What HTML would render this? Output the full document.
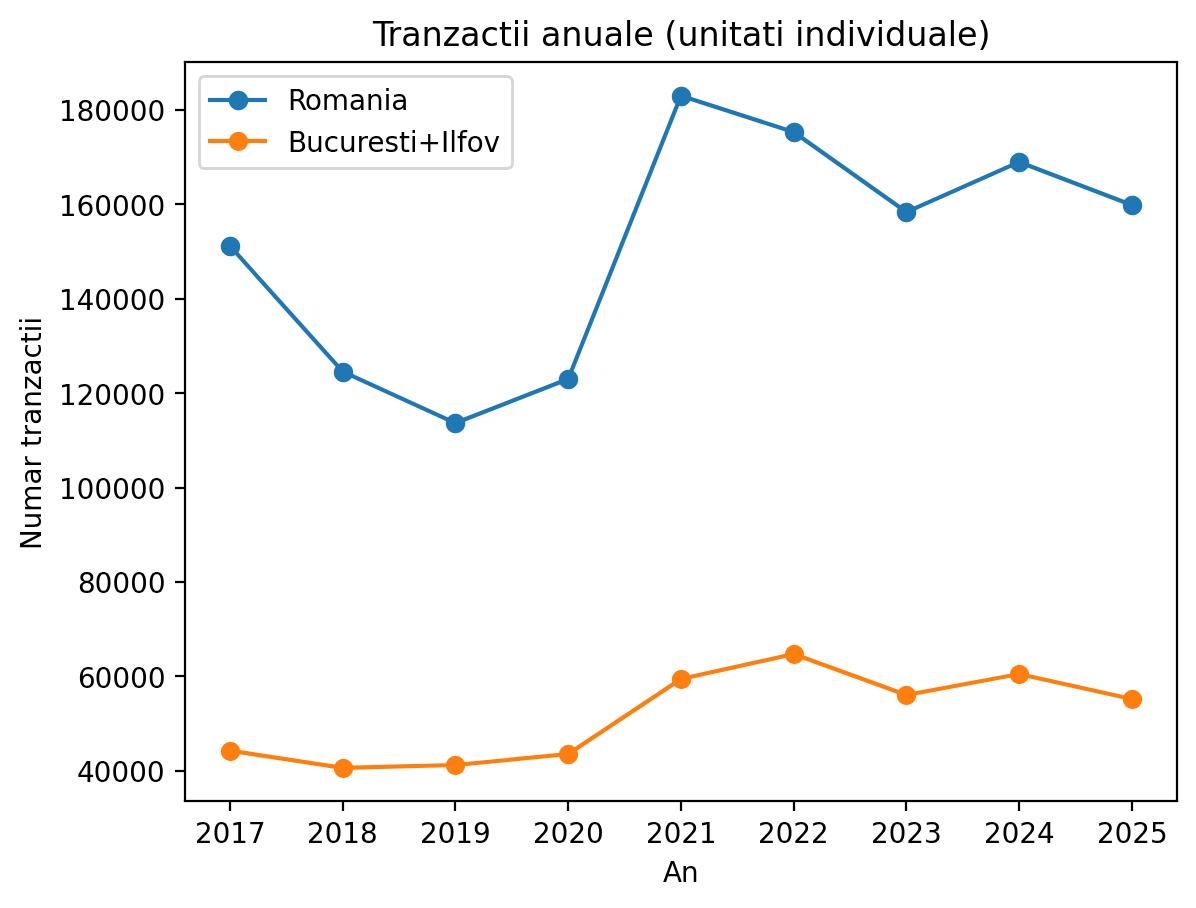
<!DOCTYPE html>
<html lang="ro"><head><meta charset="utf-8"><title>Tranzactii anuale (unitati individuale)</title>
<style>
html,body{margin:0;padding:0;background:#fff;font-family:"Liberation Sans",sans-serif;}
body{width:1196px;height:908px;overflow:hidden;}
svg{display:block;}
</style></head><body>
<svg width="1196" height="908" viewBox="-8.97500 19.06400 430.56000 326.88000" preserveAspectRatio="none" role="img" aria-label="Tranzactii anuale (unitati individuale)"><title>Tranzactii anuale (unitati individuale)</title><desc>Line chart. Title: Tranzactii anuale (unitati individuale). X axis: An (2017-2025). Y axis: Numar tranzactii (40000-180000). Series Romania (blue) and Bucuresti+Ilfov (orange), circle markers, legend upper left.</desc><defs><style type="text/css">*{stroke-linejoin: round; stroke-linecap: butt}</style></defs><g id="figure_1"><g id="patch_1"><path d="M 0 345.6 L 460.8 345.6 L 460.8 0 L 0 0 z " style="fill: #ffffff"/></g><g id="axes_1"><g id="patch_2"><path d="M 57.6 307.584 L 414.72 307.584 L 414.72 41.472 L 57.6 41.472 z " style="fill: #ffffff"/></g><g id="matplotlib.axis_1"><g id="xtick_1"><g id="line2d_1"><defs><path id="m1504cfccaf" d="M 0 0 L 0 3.6 " style="stroke: #000000; stroke-width: 0.8"/></defs><g><use href="#m1504cfccaf" x="73.825" y="307.424" style="stroke: #000000; stroke-width: 0.8"/></g></g></g><g id="xtick_2"><g id="line2d_2"><g><use href="#m1504cfccaf" x="114.505" y="307.424" style="stroke: #000000; stroke-width: 0.8"/></g></g></g><g id="xtick_3"><g id="line2d_3"><g><use href="#m1504cfccaf" x="154.825" y="307.424" style="stroke: #000000; stroke-width: 0.8"/></g></g></g><g id="xtick_4"><g id="line2d_4"><g><use href="#m1504cfccaf" x="195.505" y="307.424" style="stroke: #000000; stroke-width: 0.8"/></g></g></g><g id="xtick_5"><g id="line2d_5"><g><use href="#m1504cfccaf" x="236.185" y="307.424" style="stroke: #000000; stroke-width: 0.8"/></g></g></g><g id="xtick_6"><g id="line2d_6"><g><use href="#m1504cfccaf" x="276.865" y="307.424" style="stroke: #000000; stroke-width: 0.8"/></g></g></g><g id="xtick_7"><g id="line2d_7"><g><use href="#m1504cfccaf" x="317.185" y="307.424" style="stroke: #000000; stroke-width: 0.8"/></g></g></g><g id="xtick_8"><g id="line2d_8"><g><use href="#m1504cfccaf" x="357.865" y="307.424" style="stroke: #000000; stroke-width: 0.8"/></g></g></g><g id="xtick_9"><g id="line2d_9"><g><use href="#m1504cfccaf" x="398.545" y="307.424" style="stroke: #000000; stroke-width: 0.8"/></g></g></g></g><g id="matplotlib.axis_2"><g id="ytick_1"></g><g id="ytick_2"></g><g id="ytick_3"></g><g id="ytick_4"></g><g id="ytick_5"></g><g id="ytick_6"></g><g id="ytick_7"></g><g id="ytick_8"></g></g><g id="line2d_18"><polygon points="73.2745,108.1402 113.8563,153.3745 114.9728,152.3728 74.391,107.1385" fill="#1f77b4"/><polygon points="114.1036,153.5561 154.6854,172.0427 155.3073,170.6777 114.7255,152.1911" fill="#1f77b4"/><polygon points="155.2691,172.0589 195.8509,156.2183 195.3055,154.821 154.7237,170.6616" fill="#1f77b4"/><polygon points="196.275,155.797 236.8568,53.8454 235.4632,53.2906 194.8814,155.2423" fill="#1f77b4"/><polygon points="235.9307,54.2821 276.5125,67.3135 276.9711,65.8853 236.3893,52.8539" fill="#1f77b4"/><polygon points="276.3078,67.211 316.8896,96.0116 317.7577,94.7883 277.1759,65.9878" fill="#1f77b4"/><polygon points="317.6277,96.0855 358.2096,78.085 357.6014,76.7138 317.0195,94.7144" fill="#1f77b4"/><polygon points="357.6381,78.1001 398.22,93.5804 398.7546,92.1789 358.1728,76.6986" fill="#1f77b4"/><defs><polygon id="mf14c53ed57" points="3.5,0 3.4925,0.2289 3.4701,0.4568 3.4327,0.6828 3.3807,0.9059 3.3143,1.125 3.2336,1.3394 3.1391,1.548 3.0311,1.75 2.9101,1.9445 2.7767,2.1307 2.6314,2.3077 2.4749,2.4749 2.3077,2.6314 2.1307,2.7767 1.9445,2.9101 1.75,3.0311 1.548,3.1391 1.3394,3.2336 1.125,3.3143 0.9059,3.3807 0.6828,3.4327 0.4568,3.4701 0.2289,3.4925 0,3.5 -0.2289,3.4925 -0.4568,3.4701 -0.6828,3.4327 -0.9059,3.3807 -1.125,3.3143 -1.3394,3.2336 -1.548,3.1391 -1.75,3.0311 -1.9445,2.9101 -2.1307,2.7767 -2.3077,2.6314 -2.4749,2.4749 -2.6314,2.3077 -2.7767,2.1307 -2.9101,1.9445 -3.0311,1.75 -3.1391,1.548 -3.2336,1.3394 -3.3143,1.125 -3.3807,0.9059 -3.4327,0.6828 -3.4701,0.4568 -3.4925,0.2289 -3.5,0 -3.4925,-0.2289 -3.4701,-0.4568 -3.4327,-0.6828 -3.3807,-0.9059 -3.3143,-1.125 -3.2336,-1.3394 -3.1391,-1.548 -3.0311,-1.75 -2.9101,-1.9445 -2.7767,-2.1307 -2.6314,-2.3077 -2.4749,-2.4749 -2.3077,-2.6314 -2.1307,-2.7767 -1.9445,-2.9101 -1.75,-3.0311 -1.548,-3.1391 -1.3394,-3.2336 -1.125,-3.3143 -0.9059,-3.3807 -0.6828,-3.4327 -0.4568,-3.4701 -0.2289,-3.4925 -0,-3.5 0.2289,-3.4925 0.4568,-3.4701 0.6828,-3.4327 0.9059,-3.3807 1.125,-3.3143 1.3394,-3.2336 1.548,-3.1391 1.75,-3.0311 1.9445,-2.9101 2.1307,-2.7767 2.3077,-2.6314 2.4749,-2.4749 2.6314,-2.3077 2.7767,-2.1307 2.9101,-1.9445 3.0311,-1.75 3.1391,-1.548 3.2336,-1.3394 3.3143,-1.125 3.3807,-0.9059 3.4327,-0.6828 3.4701,-0.4568 3.4925,-0.2289"/></defs><g><use href="#mf14c53ed57" x="74.005" y="107.804" fill="#1f77b4"/><use href="#mf14c53ed57" x="114.685" y="153.164" fill="#1f77b4"/><use href="#mf14c53ed57" x="155.005" y="171.524" fill="#1f77b4"/><use href="#mf14c53ed57" x="195.685" y="155.684" fill="#1f77b4"/><use href="#mf14c53ed57" x="236.365" y="53.804" fill="#1f77b4"/><use href="#mf14c53ed57" x="277.045" y="66.764" fill="#1f77b4"/><use href="#mf14c53ed57" x="317.365" y="95.564" fill="#1f77b4"/><use href="#mf14c53ed57" x="358.045" y="77.564" fill="#1f77b4"/><use href="#mf14c53ed57" x="398.725" y="93.044" fill="#1f77b4"/></g></g><g id="line2d_19"><polygon points="73.7196,290.0349 114.3014,296.2294 114.5277,294.7466 73.9459,288.5521" fill="#ff7f0e"/><polygon points="114.4332,296.2378 155.015,295.2283 154.9777,293.7288 114.3959,294.7382" fill="#ff7f0e"/><polygon points="155.0692,295.225 195.651,291.2653 195.5053,289.7724 154.9235,293.7321" fill="#ff7f0e"/><polygon points="195.9936,291.1432 236.5754,264.1441 235.7446,262.8952 195.1627,289.8944" fill="#ff7f0e"/><polygon points="236.3224,264.2519 276.9042,255.2516 276.5794,253.7872 235.9976,262.7875" fill="#ff7f0e"/><polygon points="276.4855,255.2242 317.0673,269.9839 317.58,268.5743 276.9982,253.8145" fill="#ff7f0e"/><polygon points="317.461,270.0164 358.0428,262.4573 357.7681,260.9826 317.1863,268.5418" fill="#ff7f0e"/><polygon points="357.7431,262.4522 398.3249,271.4507 398.6496,269.9863 358.0678,260.9877" fill="#ff7f0e"/><defs><path id="mcd47077251" d="M 0 3 C 0.795609 3 1.55874 2.683901 2.12132 2.12132 C 2.683901 1.55874 3 0.795609 3 0 C 3 -0.795609 2.683901 -1.55874 2.12132 -2.12132 C 1.55874 -2.683901 0.795609 -3 0 -3 C -0.795609 -3 -1.55874 -2.683901 -2.12132 -2.12132 C -2.683901 -1.55874 -3 -0.795609 -3 0 C -3 0.795609 -2.683901 1.55874 -2.12132 2.12132 C -1.55874 2.683901 -0.795609 3 0 3 z " style="stroke: #ff7f0e"/></defs><g><use href="#mcd47077251" x="74.005" y="289.604" style="fill: #ff7f0e; stroke: #ff7f0e"/><use href="#mcd47077251" x="114.685" y="295.724" style="fill: #ff7f0e; stroke: #ff7f0e"/><use href="#mcd47077251" x="155.005" y="294.644" style="fill: #ff7f0e; stroke: #ff7f0e"/><use href="#mcd47077251" x="195.685" y="290.684" style="fill: #ff7f0e; stroke: #ff7f0e"/><use href="#mcd47077251" x="236.365" y="263.684" style="fill: #ff7f0e; stroke: #ff7f0e"/><use href="#mcd47077251" x="277.045" y="254.684" style="fill: #ff7f0e; stroke: #ff7f0e"/><use href="#mcd47077251" x="317.365" y="269.444" style="fill: #ff7f0e; stroke: #ff7f0e"/><use href="#mcd47077251" x="358.045" y="261.884" style="fill: #ff7f0e; stroke: #ff7f0e"/><use href="#mcd47077251" x="398.725" y="270.884" style="fill: #ff7f0e; stroke: #ff7f0e"/></g></g><g id="patch_3"><path d="M 57.625 307.424 L 57.625 41.384 " style="fill: none; stroke: #000000; stroke-width: 0.8; stroke-linejoin: miter; stroke-linecap: square"/></g><g id="patch_4"><path d="M 414.745 307.424 L 414.745 41.384 " style="fill: none; stroke: #000000; stroke-width: 0.8; stroke-linejoin: miter; stroke-linecap: square"/></g><g id="legend_1"><g id="patch_7"><path d="M 64.645 79.724 L 173.365 79.724 Q 175.525 79.724 175.525 77.924 L 175.525 48.764 Q 175.525 46.604 173.365 46.604 L 64.645 46.604 Q 62.845 46.604 62.845 48.764 L 62.845 77.924 Q 62.845 79.724 64.645 79.724 z" style="fill: #ffffff; opacity: 0.8; stroke: #cccccc; stroke-linejoin: miter"/></g><g id="line2d_20"><g><use href="#mf14c53ed57" x="76.885" y="55.244" fill="#1f77b4"/></g></g><g id="line2d_21"><g><use href="#mcd47077251" x="76.885" y="70.004" style="fill: #ff7f0e; stroke: #ff7f0e"/></g></g></g></g></g><g id="px_layer" transform="translate(-8.97500 19.06400) scale(0.36)"><rect x="183.8889" y="800" width="994.2222" height="2" fill="#000"/><rect x="183.8889" y="799" width="994.2222" height="1" fill="#000" fill-opacity="0.1111"/><rect x="183.8889" y="802" width="994.2222" height="1" fill="#000" fill-opacity="0.1111"/><rect x="183.8889" y="61" width="994.2222" height="2" fill="#000"/><rect x="183.8889" y="60" width="994.2222" height="1" fill="#000" fill-opacity="0.1111"/><rect x="183.8889" y="63" width="994.2222" height="1" fill="#000" fill-opacity="0.1111"/><rect x="175" y="770" width="10" height="2" fill="#000"/><rect x="175" y="769" width="10" height="1" fill="#000" fill-opacity="0.1111"/><rect x="175" y="772" width="10" height="1" fill="#000" fill-opacity="0.1111"/><rect x="175" y="675" width="10" height="2" fill="#000"/><rect x="175" y="674" width="10" height="1" fill="#000" fill-opacity="0.1111"/><rect x="175" y="677" width="10" height="1" fill="#000" fill-opacity="0.1111"/><rect x="175" y="581" width="10" height="2" fill="#000"/><rect x="175" y="580" width="10" height="1" fill="#000" fill-opacity="0.1111"/><rect x="175" y="583" width="10" height="1" fill="#000" fill-opacity="0.1111"/><rect x="175" y="487" width="10" height="2" fill="#000"/><rect x="175" y="486" width="10" height="1" fill="#000" fill-opacity="0.1111"/><rect x="175" y="489" width="10" height="1" fill="#000" fill-opacity="0.1111"/><rect x="175" y="392" width="10" height="2" fill="#000"/><rect x="175" y="391" width="10" height="1" fill="#000" fill-opacity="0.1111"/><rect x="175" y="394" width="10" height="1" fill="#000" fill-opacity="0.1111"/><rect x="175" y="298" width="10" height="2" fill="#000"/><rect x="175" y="297" width="10" height="1" fill="#000" fill-opacity="0.1111"/><rect x="175" y="300" width="10" height="1" fill="#000" fill-opacity="0.1111"/><rect x="175" y="203" width="10" height="2" fill="#000"/><rect x="175" y="202" width="10" height="1" fill="#000" fill-opacity="0.1111"/><rect x="175" y="205" width="10" height="1" fill="#000" fill-opacity="0.1111"/><rect x="175" y="109" width="10" height="2" fill="#000"/><rect x="175" y="108" width="10" height="1" fill="#000" fill-opacity="0.1111"/><rect x="175" y="111" width="10" height="1" fill="#000" fill-opacity="0.1111"/><rect x="207.9167" y="98" width="59.1667" height="4" fill="#1f77b4"/><rect x="207.9167" y="97" width="59.1667" height="1" fill="#1f77b4" fill-opacity="0.0833"/><rect x="207.9167" y="102" width="59.1667" height="1" fill="#1f77b4" fill-opacity="0.0833"/><rect x="207.9167" y="139" width="59.1667" height="4" fill="#ff7f0e"/><rect x="207.9167" y="138" width="59.1667" height="1" fill="#ff7f0e" fill-opacity="0.0833"/><rect x="207.9167" y="143" width="59.1667" height="1" fill="#ff7f0e" fill-opacity="0.0833"/></g><g id="text_layer" transform="translate(-8.97500 19.06400) scale(0.36)"><defs><path id="g10_32" d="M5.297-2.172l9.578 0 0 2.172-12.875 0 0-2.172 0.552-0.589 0.615-0.654 0.677-0.718 0.739-0.782 0.802-0.846 0.865-0.911 0.731-0.771 0.649-0.688 0.567-0.605 0.484-0.523 0.402-0.439 0.32-0.357 0.238-0.273 0.606-0.743 0.507-0.683 0.407-0.622 0.308-0.562 0.295-0.704 0.177-0.698 0.059-0.691-0.046-0.645-0.136-0.595-0.229-0.547-0.319-0.498-0.411-0.45-0.477-0.382-0.533-0.298-0.587-0.212-0.643-0.128-0.697-0.042-0.88 0.052-0.912 0.156-0.942 0.261-0.971 0.357-1.016 0.469-1.06 0.58 0-2.781 1.079-0.391 1.032-0.318 0.982-0.244 0.931-0.174 0.875-0.104 0.819-0.035 1.012 0.045 0.942 0.136 0.871 0.225 0.8 0.316 0.731 0.406 0.66 0.497 0.497 0.482 0.421 0.527 0.345 0.571 0.268 0.616 0.191 0.661 0.115 0.706 0.038 0.75-0.052 0.84-0.156 0.812-0.261 0.785-0.282 0.604-0.378 0.654-0.474 0.705-0.569 0.756-0.155 0.178-0.237 0.263-0.319 0.348-0.4 0.433-0.482 0.518-0.563 0.604-0.646 0.683-0.729 0.77-0.813 0.855-0.895 0.942-0.98 1.027z"/><path id="g10_30" d="M8.875-18.828l-0.585 0.042-0.543 0.128-0.498 0.212-0.456 0.296-0.412 0.382-0.368 0.467-0.325 0.551-0.282 0.636-0.239 0.722-0.195 0.808-0.152 0.893-0.108 0.978-0.065 1.064-0.022 1.149 0.022 1.149 0.065 1.064 0.108 0.978 0.152 0.893 0.195 0.808 0.239 0.722 0.282 0.636 0.325 0.551 0.368 0.467 0.412 0.382 0.456 0.296 0.498 0.212 0.543 0.128 0.585 0.042 0.585-0.042 0.543-0.128 0.498-0.212 0.456-0.296 0.412-0.382 0.368-0.467 0.325-0.551 0.282-0.636 0.239-0.722 0.195-0.808 0.152-0.893 0.108-0.978 0.065-1.064 0.022-1.149-0.022-1.149-0.065-1.064-0.108-0.978-0.152-0.893-0.195-0.808-0.239-0.722-0.281-0.636-0.326-0.551-0.368-0.467-0.412-0.382-0.456-0.296-0.498-0.212-0.543-0.128zM8.875-21l0.826 0.042 0.777 0.126 0.725 0.21 0.676 0.294 0.625 0.378 0.575 0.462 0.525 0.546 0.474 0.629 0.421 0.71 0.365 0.787 0.309 0.862 0.253 0.938 0.196 1.015 0.141 1.091 0.084 1.167 0.028 1.243-0.028 1.243-0.084 1.167-0.141 1.091-0.196 1.015-0.253 0.938-0.309 0.862-0.365 0.787-0.421 0.709-0.474 0.63-0.525 0.546-0.575 0.462-0.625 0.378-0.676 0.294-0.725 0.21-0.777 0.126-0.826 0.042-0.826-0.042-0.777-0.126-0.725-0.21-0.676-0.294-0.625-0.378-0.575-0.462-0.525-0.546-0.474-0.63-0.421-0.709-0.365-0.787-0.309-0.862-0.253-0.938-0.196-1.015-0.141-1.091-0.084-1.167-0.028-1.243 0.028-1.243 0.084-1.167 0.141-1.091 0.196-1.015 0.253-0.938 0.309-0.862 0.365-0.787 0.421-0.71 0.474-0.629 0.525-0.546 0.575-0.462 0.625-0.378 0.676-0.294 0.725-0.21 0.777-0.126z"/><path id="g10_31" d="M3.375-2.375l4.5 0 0-16.031-4.875 1.015 0-2.593 4.844-1.016 2.781 0 0 18.625 4.375 0 0 2.375-11.625 0z"/><path id="g10_37" d="M2.25-21l13 0 0 1.094-7.344 19.906-2.859 0 6.906-18.828-9.703 0z"/><path id="g10_38" d="M8.812-10l-0.748 0.042-0.681 0.126-0.616 0.209-0.55 0.293-0.483 0.377-0.399 0.449-0.311 0.511-0.222 0.572-0.133 0.633-0.044 0.694 0.044 0.706 0.133 0.642 0.222 0.578 0.311 0.514 0.399 0.451 0.484 0.371 0.549 0.289 0.615 0.206 0.682 0.124 0.748 0.041 0.743-0.042 0.677-0.125 0.613-0.21 0.548-0.293 0.482-0.377 0.405-0.45 0.315-0.512 0.225-0.575 0.135-0.638 0.045-0.7-0.045-0.694-0.135-0.633-0.225-0.572-0.315-0.511-0.405-0.449-0.477-0.377-0.546-0.293-0.612-0.209-0.68-0.126zM6.109-11.172l-0.675-0.206-0.612-0.266-0.55-0.328-0.488-0.39-0.425-0.45-0.354-0.508-0.276-0.547-0.197-0.588-0.118-0.628-0.039-0.667 0.048-0.784 0.143-0.726 0.239-0.67 0.334-0.612 0.43-0.554 0.525-0.498 0.608-0.429 0.68-0.352 0.751-0.273 0.822-0.196 0.893-0.117 0.965-0.039 0.968 0.039 0.896 0.117 0.823 0.196 0.75 0.273 0.677 0.352 0.604 0.429 0.525 0.497 0.43 0.554 0.334 0.609 0.239 0.667 0.143 0.722 0.048 0.779-0.039 0.673-0.119 0.632-0.196 0.591-0.276 0.549-0.354 0.508-0.425 0.451-0.488 0.389-0.55 0.329-0.612 0.266-0.675 0.206 0.764 0.217 0.693 0.288 0.622 0.359 0.551 0.431 0.479 0.502 0.405 0.561 0.315 0.609 0.225 0.656 0.135 0.704 0.045 0.751-0.037 0.816-0.11 0.76-0.183 0.703-0.257 0.647-0.33 0.591-0.403 0.536-0.477 0.478-0.545 0.415-0.608 0.351-0.671 0.287-0.735 0.223-0.797 0.159-0.861 0.096-0.923 0.032-0.924-0.032-0.861-0.096-0.797-0.159-0.735-0.223-0.671-0.287-0.608-0.351-0.545-0.415-0.477-0.478-0.403-0.536-0.33-0.591-0.257-0.647-0.183-0.703-0.11-0.76-0.037-0.816 0.045-0.745 0.135-0.7 0.225-0.653 0.315-0.607 0.405-0.56 0.484-0.508 0.554-0.435 0.621-0.362 0.691-0.29zM5.125-15.5l0.039 0.598 0.116 0.544 0.194 0.491 0.271 0.437 0.349 0.383 0.419 0.315 0.481 0.245 0.544 0.175 0.606 0.105 0.669 0.035 0.663-0.035 0.602-0.105 0.54-0.175 0.48-0.245 0.418-0.315 0.354-0.383 0.276-0.437 0.197-0.491 0.118-0.544 0.039-0.598-0.039-0.598-0.118-0.542-0.197-0.487-0.276-0.433-0.354-0.378-0.418-0.32-0.48-0.25-0.54-0.178-0.602-0.107-0.663-0.035-0.669 0.035-0.606 0.107-0.544 0.178-0.481 0.25-0.419 0.32-0.349 0.378-0.271 0.433-0.194 0.487-0.116 0.543z"/><path id="g10_39" d="M3.047-0.766l0-2.546 0.7 0.336 0.703 0.282 0.706 0.225 0.705 0.165 0.698 0.099 0.691 0.033 0.755-0.041 0.702-0.122 0.649-0.204 0.596-0.286 0.543-0.367 0.49-0.449 0.437-0.531 0.385-0.614 0.327-0.698 0.267-0.784 0.207-0.868 0.148-0.953 0.089-1.038 0.03-1.123-0.417 0.552-0.47 0.483-0.522 0.415-0.575 0.347-0.61 0.273-0.64 0.196-0.672 0.117-0.703 0.039-0.97-0.049-0.9-0.146-0.83-0.243-0.759-0.34-0.689-0.437-0.618-0.535-0.464-0.531-0.393-0.584-0.322-0.637-0.25-0.689-0.178-0.743-0.107-0.796-0.036-0.848 0.038-0.829 0.113-0.78 0.188-0.731 0.263-0.683 0.339-0.635 0.414-0.586 0.489-0.537 0.556-0.481 0.604-0.407 0.654-0.333 0.704-0.259 0.752-0.185 0.801-0.111 0.851-0.037 0.856 0.042 0.804 0.126 0.751 0.21 0.698 0.294 0.646 0.378 0.592 0.462 0.54 0.546 0.488 0.63 0.435 0.709 0.378 0.787 0.32 0.862 0.261 0.938 0.204 1.015 0.145 1.091 0.087 1.167 0.029 1.243-0.036 1.165-0.107 1.106-0.178 1.045-0.249 0.985-0.321 0.925-0.392 0.865-0.464 0.805-0.534 0.745-0.592 0.67-0.641 0.581-0.691 0.491-0.74 0.402-0.791 0.313-0.84 0.223-0.89 0.134-0.94 0.045-1.039-0.047-1.055-0.14-1.082-0.247zM8.5-10l0.707-0.047 0.646-0.14 0.584-0.235 0.523-0.328 0.462-0.422 0.388-0.509 0.302-0.578 0.216-0.647 0.129-0.716 0.043-0.784-0.043-0.785-0.129-0.715-0.216-0.647-0.302-0.578-0.388-0.51-0.462-0.427-0.523-0.333-0.585-0.237-0.645-0.143-0.707-0.047-0.707 0.047-0.646 0.143-0.584 0.237-0.523 0.333-0.462 0.427-0.388 0.51-0.302 0.578-0.216 0.647-0.129 0.715-0.043 0.785 0.043 0.784 0.129 0.716 0.216 0.647 0.302 0.578 0.388 0.509 0.462 0.422 0.523 0.328 0.585 0.235 0.645 0.14z"/><path id="g10_33" d="M11.297-11.312l0.753 0.204 0.684 0.278 0.616 0.35 0.547 0.422 0.478 0.495 0.405 0.557 0.315 0.606 0.225 0.656 0.135 0.706 0.045 0.757-0.042 0.829-0.128 0.774-0.212 0.718-0.297 0.663-0.381 0.608-0.467 0.552-0.551 0.496-0.625 0.436-0.697 0.368-0.767 0.301-0.84 0.235-0.91 0.167-0.983 0.101-1.053 0.033-0.854-0.026-0.875-0.078-0.896-0.13-0.915-0.184-0.932-0.24-0.95-0.295 0-2.719 0.785 0.458 0.833 0.375 0.882 0.292 0.92 0.208 0.948 0.125 0.976 0.042 0.825-0.031 0.756-0.094 0.688-0.156 0.62-0.219 0.55-0.281 0.483-0.344 0.415-0.408 0.34-0.463 0.264-0.52 0.189-0.574 0.113-0.63 0.038-0.686-0.035-0.642-0.106-0.594-0.175-0.545-0.246-0.497-0.317-0.448-0.387-0.399-0.444-0.344-0.5-0.281-0.556-0.219-0.611-0.156-0.666-0.094-0.723-0.031-2.359 0 0-2.172 2.469 0 0.768-0.029 0.692-0.088 0.615-0.147 0.54-0.206 0.463-0.264 0.388-0.32 0.302-0.373 0.216-0.425 0.129-0.477 0.043-0.53-0.044-0.549-0.133-0.494-0.222-0.441-0.311-0.386-0.399-0.334-0.477-0.275-0.553-0.215-0.632-0.153-0.708-0.092-0.787-0.03-0.769 0.026-0.807 0.078-0.845 0.13-0.884 0.174-0.943 0.229-1.002 0.285 0-2.282 1.019-0.248 0.974-0.203 0.929-0.158 0.898-0.113 0.859-0.067 0.821-0.023 1.006 0.039 0.932 0.119 0.859 0.197 0.787 0.277 0.713 0.355 0.641 0.435 0.558 0.497 0.458 0.553 0.355 0.61 0.254 0.666 0.152 0.723 0.051 0.779-0.039 0.648-0.116 0.607-0.194 0.566-0.271 0.524-0.349 0.483-0.414 0.434-0.481 0.379-0.547 0.321-0.613 0.266z"/><path id="g10_34" d="M10.5-18.531l-6.906 11.187 6.906 0zM9.781-21l3.469 0 0 13.656 2.875 0 0 2.344-2.875 0 0 5-2.75 0 0-5-9.125 0 0-2.719z"/><path id="g10_35" d="M3-21l10.75 0 0 2.172-8.25 0 0 5.219 0.594-0.164 0.593-0.118 0.606-0.082 0.598-0.027 0.94 0.039 0.882 0.115 0.826 0.193 0.767 0.27 0.711 0.348 0.653 0.424 0.596 0.502 0.526 0.567 0.446 0.621 0.364 0.676 0.284 0.73 0.202 0.784 0.122 0.838 0.04 0.893-0.042 0.921-0.125 0.86-0.209 0.799-0.292 0.739-0.376 0.678-0.46 0.618-0.543 0.557-0.614 0.485-0.683 0.41-0.751 0.336-0.819 0.261-0.888 0.187-0.955 0.112-1.024 0.037-1.293-0.051-1.317-0.152-1.339-0.254-1.395-0.356 0-2.75 0.821 0.429 0.839 0.349 0.856 0.269 0.89 0.191 0.922 0.115 0.953 0.038 0.759-0.036 0.703-0.108 0.648-0.18 0.592-0.252 0.536-0.324 0.481-0.397 0.42-0.458 0.344-0.509 0.267-0.56 0.191-0.612 0.115-0.662 0.038-0.714-0.038-0.724-0.115-0.67-0.191-0.618-0.267-0.565-0.344-0.511-0.42-0.459-0.48-0.397-0.536-0.324-0.589-0.252-0.645-0.18-0.699-0.108-0.754-0.036-0.729 0.029-0.729 0.089-0.73 0.147-0.734 0.2-0.745 0.266-0.755 0.331z"/><path id="g10_41" d="M9.484-18.359l-3.718 10.359 7.453 0zM7.938-21l3.109 0 7.703 21-2.844 0-1.844-5.656-9.109 0-1.844 5.656-2.89 0z"/><path id="g10_6e" d="M15.25-9.422l0 9.422-2.5 0 0-9.391-0.034-0.843-0.101-0.754-0.169-0.666-0.236-0.577-0.304-0.488-0.371-0.399-0.439-0.311-0.506-0.222-0.574-0.133-0.641-0.044-0.653 0.037-0.606 0.112-0.557 0.187-0.51 0.261-0.463 0.336-0.414 0.411-0.358 0.469-0.293 0.522-0.228 0.575-0.163 0.628-0.097 0.681-0.033 0.734 0 8.875-2.5 0 0-16 2.5 0 0 2.75 0.473-0.645 0.511-0.558 0.551-0.473 0.59-0.386 0.632-0.301 0.677-0.215 0.721-0.129 0.767-0.043 0.844 0.046 0.772 0.14 0.7 0.232 0.628 0.325 0.556 0.418 0.484 0.511 0.411 0.601 0.336 0.687 0.261 0.774 0.187 0.861 0.112 0.948z"/><path id="g10_36" d="M9.141-12l-0.594 0.036-0.55 0.11-0.509 0.182-0.465 0.255-0.424 0.328-0.38 0.402-0.383 0.564-0.297 0.643-0.213 0.722-0.127 0.801-0.043 0.879 0.043 0.869 0.127 0.793 0.213 0.719 0.297 0.644 0.383 0.569 0.38 0.401 0.424 0.328 0.465 0.255 0.509 0.182 0.55 0.11 0.594 0.036 0.593-0.036 0.549-0.11 0.506-0.182 0.463-0.255 0.419-0.328 0.376-0.401 0.388-0.569 0.302-0.644 0.216-0.719 0.129-0.793 0.043-0.869-0.043-0.88-0.129-0.8-0.216-0.722-0.302-0.643-0.388-0.564-0.376-0.402-0.419-0.328-0.463-0.255-0.506-0.182-0.549-0.11zM14.562-20.234l0.001 2.359-1.051-0.41-1.059-0.293-0.698-0.139-0.698-0.083-0.698-0.028-0.754 0.036-0.702 0.108-0.649 0.18-0.596 0.252-0.543 0.325-0.49 0.396-0.437 0.468-0.382 0.542-0.323 0.615-0.264 0.69-0.205 0.763-0.147 0.838-0.088 0.911-0.029 0.985 0.423-0.558 0.472-0.489 0.52-0.418 0.569-0.347 0.61-0.281 0.64-0.2 0.672-0.12 0.703-0.04 0.836 0.039 0.784 0.117 0.733 0.194 0.681 0.273 0.629 0.35 0.577 0.428 0.526 0.505 0.464 0.573 0.393 0.629 0.322 0.685 0.25 0.741 0.178 0.797 0.107 0.853 0.036 0.91-0.038 0.889-0.113 0.838-0.188 0.786-0.263 0.734-0.339 0.683-0.414 0.631-0.489 0.579-0.552 0.515-0.602 0.434-0.653 0.356-0.703 0.277-0.753 0.198-0.804 0.118-0.855 0.04-0.853-0.042-0.801-0.126-0.749-0.21-0.698-0.294-0.646-0.378-0.594-0.462-0.543-0.546-0.491-0.63-0.435-0.709-0.378-0.787-0.32-0.862-0.261-0.938-0.204-1.015-0.145-1.091-0.087-1.167-0.029-1.243 0.036-1.169 0.107-1.107 0.178-1.047 0.249-0.986 0.321-0.924 0.392-0.864 0.464-0.802 0.534-0.742 0.595-0.67 0.644-0.581 0.692-0.491 0.741-0.402 0.79-0.313 0.839-0.223 0.888-0.134 0.936-0.045 1.035 0.047 1.043 0.14 1.082 0.239z"/><path id="g10_4e" d="M2.75-21l3.656 0 8.969 17.562 0-17.562 2.625 0 0 21-3.656 0-8.969-17.562 0 17.562-2.625 0z"/><path id="g10_75" d="M2.375-6.547l0-9.453 2.5 0 0 9.375 0.034 0.849 0.101 0.758 0.169 0.669 0.236 0.579 0.304 0.489 0.371 0.399 0.439 0.311 0.506 0.222 0.574 0.133 0.641 0.044 0.653-0.036 0.606-0.11 0.557-0.182 0.51-0.255 0.463-0.328 0.414-0.401 0.358-0.47 0.293-0.525 0.228-0.58 0.163-0.634 0.097-0.689 0.033-0.743 0-8.875 2.5 0 0 16-2.5 0 0-2.75-0.472 0.651-0.508 0.564-0.546 0.475-0.583 0.388-0.626 0.294-0.675 0.21-0.724 0.126-0.772 0.042-0.84-0.046-0.77-0.14-0.699-0.232-0.629-0.325-0.558-0.418-0.489-0.511-0.415-0.6-0.34-0.685-0.264-0.77-0.189-0.855-0.113-0.94zM8.625-16lz"/><path id="g10_6d" d="M14.453-12.625l0.39-0.652 0.42-0.581 0.45-0.509 0.48-0.438 0.51-0.367 0.685-0.362 0.741-0.259 0.798-0.155 0.854-0.052 0.762 0.048 0.702 0.143 0.642 0.239 0.582 0.334 0.522 0.43 0.462 0.525 0.396 0.608 0.325 0.689 0.252 0.769 0.18 0.85 0.108 0.931 0.036 1.012 0 9.422-2.5 0 0-9.391-0.031-0.853-0.094-0.762-0.156-0.668-0.219-0.577-0.281-0.483-0.345-0.394-0.41-0.306-0.475-0.219-0.54-0.131-0.605-0.044-0.629 0.037-0.583 0.112-0.538 0.187-0.493 0.261-0.448 0.336-0.403 0.411-0.405 0.569-0.315 0.646-0.225 0.721-0.135 0.799-0.045 0.874 0 8.875-2.5 0 0-9.391-0.031-0.853-0.094-0.762-0.156-0.668-0.219-0.577-0.281-0.483-0.346-0.394-0.414-0.306-0.482-0.219-0.548-0.131-0.617-0.044-0.618 0.037-0.576 0.112-0.532 0.187-0.489 0.261-0.445 0.336-0.402 0.411-0.405 0.574-0.315 0.648-0.225 0.722-0.135 0.796-0.045 0.869 0 8.875-2.5 0 0-16 2.5 0 0 2.75 0.45-0.657 0.491-0.566 0.533-0.473 0.573-0.382 0.63-0.294 0.686-0.21 0.743-0.126 0.8-0.042 0.643 0.035 0.602 0.105 0.563 0.175 0.522 0.245 0.483 0.315 0.444 0.375 0.396 0.437 0.347 0.5 0.298 0.563z"/><path id="g10_61" d="M9.5-8l-0.959 0.019-0.855 0.057-0.752 0.096-0.649 0.134-0.546 0.171-0.442 0.21-0.358 0.251-0.293 0.303-0.228 0.357-0.163 0.409-0.097 0.462-0.033 0.515 0.035 0.503 0.105 0.46 0.175 0.415 0.245 0.372 0.315 0.328 0.381 0.276 0.429 0.214 0.478 0.154 0.527 0.091 0.576 0.031 0.674-0.04 0.628-0.12 0.58-0.199 0.534-0.28 0.487-0.359 0.44-0.439 0.387-0.511 0.317-0.564 0.246-0.617 0.175-0.669 0.106-0.723 0.035-0.776 0-0.531zM14.5-8.906l0 8.906-2.5 0 0-2.766-0.456 0.659-0.509 0.568-0.561 0.478-0.615 0.389-0.675 0.294-0.746 0.21-0.817 0.126-0.887 0.042-0.754-0.037-0.702-0.111-0.649-0.184-0.596-0.258-0.543-0.332-0.49-0.406-0.42-0.468-0.344-0.52-0.267-0.571-0.191-0.622-0.115-0.673-0.038-0.724 0.035-0.723 0.105-0.67 0.176-0.616 0.245-0.563 0.316-0.509 0.386-0.455 0.456-0.402 0.624-0.406 0.718-0.332 0.81-0.258 0.903-0.184 0.996-0.111 1.089-0.037 3.516 0 0-0.234-0.046-0.621-0.136-0.562-0.229-0.503-0.319-0.444-0.411-0.386-0.492-0.326-0.565-0.254-0.638-0.181-0.71-0.109-0.782-0.036-0.866 0.033-0.849 0.099-0.832 0.165-0.814 0.231-0.797 0.297-0.78 0.362 0-2.265 0.908-0.334 0.891-0.27 0.873-0.209 0.856-0.156 0.839-0.094 0.821-0.031 0.912 0.036 0.843 0.108 0.774 0.18 0.706 0.253 0.636 0.324 0.568 0.396 0.498 0.469 0.436 0.537 0.368 0.612 0.301 0.686 0.235 0.762 0.167 0.835 0.101 0.911z"/><path id="g10_72" d="M11.375-13.328l-0.441-0.227-0.481-0.148-0.512-0.094-0.566-0.031-0.676 0.04-0.623 0.12-0.568 0.199-0.515 0.28-0.461 0.359-0.407 0.439-0.344 0.509-0.281 0.576-0.219 0.646-0.156 0.714-0.094 0.782-0.031 0.851 0 8.313-2.5 0 0-16 2.5 0 0 2.687 0.421-0.635 0.481-0.548 0.542-0.46 0.603-0.372 0.666-0.294 0.732-0.21 0.799-0.126 0.865-0.042 0.579 0 0.328 0 0.359 0z"/><path id="g10_74" d="M5.125-20l0 4 5.125 0 0 2.172-5.125 0 0 8.64 0.02 0.72 0.06 0.61 0.1 0.5 0.14 0.39 0.18 0.28 0.248 0.197 0.33 0.153 0.412 0.11 0.495 0.065 0.578 0.022 2.562 0 0 2.141-2.547 0-0.914-0.031-0.813-0.094-0.714-0.156-0.614-0.219-0.515-0.281-0.414-0.344-0.334-0.426-0.274-0.529-0.213-0.631-0.151-0.733-0.092-0.836-0.03-0.939 0-8.609-1.875 0 0-2.172 1.875 0 0-4z"/><path id="g10_7a" d="M1.625-16l11.875 0 0 2.469-9.406 11.359 9.406 0 0 2.172-12.25 0 0-2.469 9.438-11.359-9.063 0z"/><path id="g10_63" d="M13.5-15.031l0 2.359-0.708-0.352-0.709-0.287-0.708-0.22-0.71-0.165-0.714-0.099-0.717-0.033-0.777 0.042-0.717 0.128-0.658 0.213-0.598 0.297-0.537 0.383-0.478 0.468-0.411 0.54-0.336 0.611-0.261 0.681-0.187 0.751-0.112 0.822-0.037 0.892 0.037 0.888 0.112 0.819 0.187 0.75 0.261 0.682 0.336 0.613 0.411 0.545 0.478 0.468 0.537 0.383 0.598 0.297 0.658 0.213 0.717 0.128 0.777 0.042 0.717-0.031 0.714-0.094 0.71-0.156 0.708-0.229 0.709-0.292 0.708-0.354 0 2.328-0.707 0.306-0.724 0.25-0.741 0.194-0.755 0.139-0.787 0.083-0.817 0.028-0.953-0.044-0.895-0.132-0.838-0.22-0.779-0.308-0.721-0.396-0.662-0.484-0.605-0.572-0.535-0.651-0.453-0.713-0.37-0.773-0.288-0.835-0.205-0.896-0.124-0.958-0.041-1.018 0.041-1.03 0.125-0.966 0.207-0.902 0.29-0.837 0.373-0.772 0.456-0.709 0.539-0.643 0.616-0.568 0.676-0.481 0.738-0.393 0.799-0.306 0.861-0.218 0.921-0.131 0.983-0.044 0.764 0.028 0.75 0.083 0.736 0.139 0.722 0.184 0.709 0.24z"/><path id="g10_69" d="M2.625-16l2.5 0 0 16-2.5 0zM2.625-22l2.5 0 0 3-2.5 0z"/><path id="g12_54" d="M-0.125-25l20.625 0 0 2.578-8.75 0 0 22.422-3.25 0 0-22.422-8.625 0z"/><path id="g12_72" d="M13.688-15.844l-0.528-0.258-0.582-0.179-0.621-0.106-0.676-0.035-0.82 0.047-0.754 0.142-0.687 0.237-0.621 0.331-0.553 0.426-0.487 0.52-0.415 0.604-0.34 0.688-0.264 0.771-0.189 0.854-0.113 0.937-0.038 1.021 0 9.844-3 0 0-19 3 0 0 3.203 0.404-0.616 0.449-0.549 0.493-0.481 0.539-0.414 0.584-0.346 0.633-0.287 0.687-0.223 0.74-0.159 0.795-0.096 0.848-0.032 0.328 0 0.359 0 0.395 0 0.434 0z"/><path id="g12_61" d="M11.406-10l-0.986 0.018-0.896 0.053-0.807 0.09-0.716 0.125-0.627 0.16-0.537 0.197-0.446 0.232-0.425 0.321-0.348 0.389-0.27 0.458-0.193 0.526-0.116 0.595-0.039 0.664 0.042 0.635 0.125 0.58 0.21 0.525 0.293 0.47 0.377 0.415 0.449 0.349 0.508 0.271 0.569 0.194 0.629 0.116 0.689 0.039 0.8-0.051 0.746-0.152 0.692-0.254 0.637-0.356 0.582-0.457 0.527-0.558 0.458-0.648 0.375-0.715 0.292-0.782 0.208-0.848 0.125-0.916 0.042-0.982 0-0.703zM17.375-10.578l0 10.578-3 0 0-3.344-0.427 0.651-0.468 0.579-0.509 0.506-0.551 0.434-0.592 0.361-0.639 0.293-0.693 0.228-0.747 0.162-0.801 0.098-0.854 0.032-0.901-0.046-0.837-0.138-0.774-0.23-0.71-0.322-0.648-0.414-0.583-0.506-0.502-0.583-0.41-0.645-0.319-0.706-0.228-0.768-0.136-0.829-0.046-0.891 0.042-0.888 0.125-0.823 0.209-0.758 0.292-0.694 0.376-0.63 0.46-0.566 0.543-0.5 0.63-0.436 0.713-0.368 0.795-0.301 0.877-0.235 0.96-0.167 1.041-0.101 1.124-0.033 4.188 0 0-0.25-0.038-0.551-0.113-0.508-0.189-0.465-0.264-0.421-0.34-0.377-0.415-0.334-0.582-0.338-0.671-0.262-0.759-0.188-0.848-0.112-0.937-0.038-1.033 0.035-1.016 0.104-0.998 0.174-0.967 0.243-0.943 0.312-0.918 0.382 0-2.547 1.081-0.39 1.058-0.318 1.033-0.245 1.022-0.182 1.005-0.11 0.988-0.036 1.089 0.043 1.006 0.128 0.923 0.214 0.842 0.299 0.759 0.384 0.677 0.47 0.595 0.556 0.518 0.638 0.439 0.727 0.358 0.815 0.279 0.904 0.2 0.993 0.119 1.081z"/><path id="g12_6e" d="M18.25-11.203l0 11.203-3 0 0-11.141-0.028-0.848-0.085-0.773-0.141-0.699-0.197-0.624-0.254-0.55-0.311-0.474-0.361-0.401-0.418-0.329-0.475-0.255-0.53-0.182-0.588-0.109-0.643-0.037-0.779 0.044-0.723 0.131-0.666 0.22-0.61 0.307-0.553 0.394-0.497 0.482-0.425 0.558-0.348 0.623-0.27 0.686-0.193 0.751-0.116 0.815-0.039 0.88 0 10.531-3 0 0-19 3 0 0 3.266 0.562-0.769 0.61-0.665 0.656-0.561 0.703-0.459 0.755-0.355 0.812-0.254 0.868-0.152 0.925-0.051 0.866 0.04 0.803 0.122 0.741 0.202 0.679 0.284 0.616 0.364 0.554 0.446 0.491 0.526 0.427 0.605 0.361 0.68 0.295 0.755 0.23 0.83 0.165 0.906 0.098 0.981z"/><path id="g12_7a" d="M1.75-19l14.25 0 0 2.938-11.281 13.484 11.281 0 0 2.578-14.625 0 0-2.937 11.25-13.485-10.875 0z"/><path id="g12_63" d="M16.312-17.844l0 2.797-0.845-0.42-0.849-0.344-0.852-0.267-0.856-0.191-0.86-0.115-0.863-0.038-0.808 0.037-0.755 0.111-0.703 0.185-0.649 0.259-0.597 0.333-0.544 0.407-0.49 0.481-0.427 0.548-0.362 0.609-0.295 0.669-0.23 0.73-0.164 0.79-0.099 0.851-0.033 0.912 0.033 0.912 0.099 0.851 0.164 0.79 0.23 0.73 0.295 0.669 0.362 0.609 0.427 0.548 0.49 0.481 0.544 0.407 0.597 0.333 0.649 0.259 0.703 0.185 0.755 0.111 0.808 0.037 0.863-0.038 0.86-0.115 0.856-0.191 0.852-0.267 0.849-0.344 0.845-0.42 0 2.765-0.843 0.363-0.865 0.297-0.885 0.231-0.915 0.165-0.953 0.099-0.992 0.033-1.005-0.04-0.952-0.12-0.899-0.2-0.847-0.281-0.794-0.36-0.741-0.44-0.688-0.521-0.636-0.601-0.568-0.672-0.492-0.728-0.416-0.784-0.341-0.839-0.264-0.895-0.19-0.951-0.113-1.006-0.038-1.062 0.038-1.076 0.115-1.017 0.192-0.958 0.268-0.898 0.345-0.84 0.422-0.78 0.498-0.722 0.575-0.662 0.642-0.597 0.698-0.517 0.755-0.438 0.811-0.358 0.869-0.279 0.924-0.199 0.982-0.119 1.038-0.04 0.918 0.033 0.901 0.099 0.884 0.165 0.875 0.22 0.854 0.287z"/><path id="g12_74" d="M6.125-24l0 5 6.125 0 0 2.578-6.125 0 0 10.25 0.017 0.725 0.051 0.633 0.084 0.541 0.119 0.448 0.152 0.357 0.186 0.265 0.294 0.236 0.394 0.184 0.494 0.131 0.593 0.079 0.694 0.026 3.047 0 0 2.547-3.062 0-0.939-0.027-0.852-0.081-0.766-0.136-0.678-0.19-0.592-0.244-0.505-0.298-0.419-0.352-0.348-0.429-0.294-0.518-0.241-0.607-0.188-0.696-0.134-0.786-0.08-0.875-0.027-0.964 0-10.219-2.25 0 0-2.578 2.25 0 0-5z"/><path id="g12_69" d="M3.125-19l3 0 0 19-3 0zM3.125-26l3 0 0 4-3 0z"/><path id="g12_75" d="M2.875-7.797l0-11.203 3 0 0 11.141 0.028 0.848 0.083 0.773 0.139 0.699 0.194 0.624 0.25 0.55 0.306 0.474 0.366 0.401 0.422 0.329 0.478 0.255 0.533 0.182 0.588 0.109 0.644 0.037 0.775-0.044 0.718-0.131 0.664-0.22 0.607-0.307 0.552-0.394 0.497-0.482 0.429-0.558 0.352-0.621 0.273-0.685 0.196-0.747 0.117-0.812 0.039-0.874 0-10.547 3 0 0 19-3 0 0-3.266-0.568 0.776-0.612 0.67-0.654 0.564-0.697 0.459-0.747 0.349-0.804 0.249-0.86 0.149-0.917 0.05-0.867-0.04-0.804-0.122-0.743-0.202-0.681-0.284-0.619-0.364-0.557-0.446-0.495-0.526-0.431-0.609-0.365-0.682-0.298-0.757-0.233-0.83-0.165-0.904-0.1-0.979zM10.375-19lz"/><path id="g12_6c" d="M3.125-26l3 0 0 26-3 0z"/><path id="g12_65" d="M18.75-10.422l0 1.422-13.719 0 0.035 0.867 0.103 0.805 0.172 0.744 0.241 0.683 0.31 0.622 0.379 0.561 0.448 0.499 0.599 0.502 0.673 0.41 0.747 0.319 0.821 0.228 0.895 0.136 0.968 0.046 1.153-0.047 1.125-0.141 1.097-0.234 1.09-0.339 1.083-0.432 1.077-0.526 0 2.875-1.082 0.424-1.099 0.354-1.116 0.285-1.13 0.199-1.141 0.12-1.151 0.04-1.061-0.039-1.005-0.118-0.949-0.197-0.891-0.275-0.835-0.354-0.778-0.432-0.722-0.511-0.665-0.59-0.597-0.66-0.517-0.716-0.438-0.77-0.358-0.826-0.279-0.881-0.199-0.937-0.119-0.991-0.04-1.047 0.038-1.081 0.112-1.023 0.188-0.967 0.264-0.909 0.338-0.853 0.414-0.795 0.488-0.738 0.564-0.681 0.632-0.611 0.684-0.53 0.736-0.449 0.788-0.367 0.841-0.285 0.892-0.204 0.946-0.122 0.997-0.041 1.018 0.047 0.955 0.142 0.893 0.236 0.83 0.33 0.768 0.425 0.706 0.519 0.642 0.614 0.568 0.694 0.481 0.761 0.393 0.828 0.306 0.895 0.218 0.962 0.131 1.029zM15.75-11.578l-0.038-0.715-0.113-0.664-0.189-0.613-0.264-0.564-0.34-0.513-0.415-0.462-0.473-0.401-0.522-0.329-0.572-0.255-0.621-0.182-0.67-0.109-0.721-0.037-0.81 0.036-0.755 0.106-0.7 0.178-0.644 0.25-0.589 0.32-0.533 0.391-0.469 0.451-0.399 0.508-0.327 0.565-0.256 0.622-0.185 0.68-0.114 0.737z"/><path id="g12_28" d="M10.344-26l-0.83 1.509-0.74 1.504-0.65 1.496-0.56 1.491-0.47 1.484-0.383 1.485-0.297 1.493-0.213 1.5-0.127 1.507-0.043 1.515 0.043 1.517 0.127 1.511 0.213 1.506 0.297 1.501 0.383 1.497 0.475 1.489 0.562 1.493 0.65 1.497 0.738 1.501 0.825 1.504-2.61 0-0.926-1.539-0.829-1.529-0.731-1.518-0.634-1.509-0.536-1.499-0.433-1.492-0.337-1.488-0.24-1.484-0.145-1.481-0.048-1.477 0.048-1.47 0.145-1.475 0.24-1.478 0.337-1.482 0.433-1.485 0.531-1.494 0.632-1.506 0.731-1.519 0.831-1.531 0.931-1.544z"/><path id="g12_64" d="M15.25-15.734l0-10.266 3 0 0 26-3 0 0-3.266-0.401 0.629-0.442 0.561-0.481 0.494-0.521 0.426-0.561 0.359-0.599 0.287-0.646 0.223-0.694 0.16-0.741 0.095-0.789 0.032-0.926-0.053-0.875-0.16-0.825-0.266-0.775-0.373-0.724-0.479-0.673-0.586-0.624-0.692-0.551-0.784-0.467-0.85-0.381-0.918-0.297-0.984-0.212-1.051-0.128-1.119-0.042-1.185 0.042-1.185 0.128-1.117 0.212-1.05 0.297-0.982 0.381-0.915 0.467-0.847 0.551-0.779 0.624-0.696 0.673-0.59 0.724-0.482 0.775-0.375 0.825-0.268 0.875-0.16 0.926-0.054 0.789 0.032 0.741 0.098 0.694 0.163 0.646 0.227 0.599 0.293 0.561 0.353 0.521 0.421 0.482 0.491 0.441 0.559zM5.031-9.5l0.038 1.044 0.113 0.966 0.189 0.888 0.264 0.81 0.34 0.732 0.416 0.654 0.486 0.558 0.541 0.457 0.598 0.356 0.652 0.254 0.709 0.152 0.764 0.051 0.763-0.051 0.707-0.152 0.651-0.254 0.594-0.356 0.538-0.457 0.481-0.558 0.42-0.654 0.344-0.732 0.267-0.81 0.191-0.888 0.115-0.966 0.038-1.044-0.038-1.039-0.115-0.963-0.191-0.885-0.267-0.807-0.344-0.731-0.42-0.653-0.481-0.563-0.538-0.461-0.594-0.359-0.651-0.256-0.707-0.154-0.763-0.051-0.764 0.051-0.709 0.154-0.652 0.256-0.598 0.359-0.541 0.461-0.486 0.563-0.416 0.653-0.34 0.731-0.264 0.807-0.189 0.885-0.113 0.963z"/><path id="g12_76" d="M1-19l3.172 0 5.703 15.953 5.703-15.953 3.188 0-6.86 19-4.062 0z"/><path id="g12_29" d="M2.703-26l2.61 0 0.925 1.544 0.827 1.531 0.728 1.519 0.63 1.506 0.53 1.494 0.433 1.485 0.337 1.482 0.241 1.478 0.144 1.475 0.048 1.47-0.048 1.477-0.144 1.481-0.241 1.484-0.337 1.488-0.433 1.492-0.53 1.499-0.63 1.509-0.728 1.519-0.827 1.528-0.926 1.539-2.609 0 0.819-1.504 0.731-1.501 0.644-1.497 0.556-1.493 0.469-1.489 0.388-1.497 0.302-1.501 0.216-1.506 0.129-1.511 0.043-1.517-0.043-1.515-0.13-1.507-0.215-1.5-0.302-1.493-0.388-1.485-0.469-1.484-0.556-1.491-0.644-1.496-0.731-1.504z"/><path id="g10_52" d="M12.281-9.859l0.435 0.207 0.429 0.293 0.422 0.379 0.417 0.464 0.422 0.549 0.422 0.647 0.422 0.744 0.422 0.842 2.781 5.734-2.937 0-2.579-5.359-0.397-0.787-0.393-0.671-0.387-0.556-0.383-0.441-0.377-0.327-0.397-0.247-0.453-0.193-0.509-0.137-0.566-0.083-0.622-0.027-2.953 0 0 8.828-2.75 0 0-21 6.156 0 0.951 0.031 0.878 0.093 0.807 0.154 0.734 0.217 0.662 0.278 0.591 0.341 0.518 0.402 0.452 0.459 0.382 0.521 0.313 0.584 0.243 0.645 0.174 0.707 0.104 0.769 0.035 0.83-0.036 0.773-0.107 0.717-0.178 0.663-0.249 0.607-0.321 0.553-0.388 0.487-0.452 0.423-0.515 0.359-0.58 0.296zM5.5-18.828l0 7.828 3.406 0 0.749-0.04 0.671-0.12 0.594-0.2 0.516-0.28 0.439-0.36 0.36-0.438 0.28-0.512 0.2-0.588 0.12-0.662 0.04-0.738-0.04-0.736-0.12-0.659-0.2-0.581-0.28-0.504-0.36-0.426-0.439-0.354-0.516-0.276-0.594-0.197-0.671-0.118-0.749-0.039z"/><path id="g10_6f" d="M8.453-13.828l-0.644 0.043-0.597 0.13-0.552 0.217-0.505 0.304-0.46 0.391-0.414 0.477-0.353 0.549-0.289 0.613-0.225 0.678-0.161 0.744-0.096 0.808-0.032 0.874 0.032 0.874 0.096 0.81 0.161 0.746 0.225 0.681 0.289 0.617 0.353 0.553 0.41 0.473 0.457 0.387 0.504 0.3 0.553 0.215 0.6 0.129 0.648 0.043 0.639-0.043 0.592-0.13 0.546-0.218 0.501-0.303 0.454-0.391 0.409-0.477 0.353-0.553 0.289-0.616 0.225-0.679 0.161-0.743 0.096-0.806 0.032-0.869-0.032-0.865-0.096-0.802-0.161-0.739-0.225-0.677-0.289-0.615-0.353-0.552-0.409-0.482-0.454-0.395-0.501-0.307-0.546-0.219-0.592-0.131zM8.438-16l0.899 0.043 0.843 0.13 0.785 0.217 0.728 0.304 0.67 0.39 0.613 0.477 0.555 0.564 0.489 0.64 0.414 0.707 0.339 0.773 0.263 0.839 0.188 0.906 0.113 0.972 0.038 1.038-0.038 1.038-0.113 0.972-0.188 0.906-0.263 0.839-0.339 0.773-0.414 0.707-0.489 0.64-0.555 0.564-0.613 0.477-0.67 0.39-0.728 0.304-0.785 0.217-0.843 0.13-0.899 0.043-0.9-0.043-0.843-0.13-0.785-0.217-0.728-0.304-0.67-0.39-0.613-0.477-0.555-0.564-0.489-0.64-0.414-0.707-0.339-0.773-0.263-0.839-0.188-0.906-0.113-0.972-0.038-1.038 0.038-1.038 0.113-0.972 0.188-0.906 0.263-0.839 0.339-0.773 0.414-0.707 0.489-0.64 0.555-0.564 0.613-0.477 0.67-0.39 0.728-0.304 0.785-0.217 0.843-0.13z"/><path id="g10_42" d="M5.5-10l0 7.828 4.406 0 0.836-0.039 0.744-0.116 0.653-0.194 0.562-0.271 0.471-0.349 0.388-0.428 0.302-0.512 0.216-0.593 0.129-0.677 0.043-0.758-0.03-0.638-0.09-0.578-0.15-0.519-0.209-0.46-0.27-0.401-0.329-0.342-0.471-0.343-0.562-0.267-0.653-0.191-0.744-0.114-0.836-0.038zM5.5-18.828l0 6.656 4.047 0 0.759-0.032 0.676-0.098 0.594-0.162 0.511-0.228 0.429-0.292 0.354-0.365 0.276-0.433 0.197-0.5 0.118-0.567 0.039-0.635-0.039-0.641-0.118-0.572-0.197-0.503-0.276-0.434-0.354-0.366-0.429-0.298-0.511-0.232-0.594-0.166-0.676-0.099-0.759-0.033zM2.75-21l6.984 0 1.002 0.038 0.922 0.113 0.842 0.189 0.762 0.264 0.682 0.34 0.603 0.415 0.52 0.486 0.426 0.549 0.331 0.614 0.237 0.678 0.142 0.742 0.047 0.806-0.035 0.75-0.105 0.685-0.175 0.622-0.245 0.558-0.315 0.495-0.376 0.427-0.441 0.358-0.507 0.287-0.571 0.218-0.636 0.147 0.776 0.215 0.704 0.293 0.631 0.372 0.559 0.45 0.486 0.53 0.405 0.591 0.315 0.649 0.225 0.706 0.135 0.764 0.045 0.821-0.038 0.769-0.113 0.718-0.188 0.667-0.263 0.616-0.339 0.565-0.414 0.514-0.489 0.463-0.558 0.402-0.623 0.341-0.686 0.278-0.75 0.217-0.814 0.154-0.877 0.093-0.942 0.031-7.281 0z"/><path id="g10_65" d="M15.5-9l0 1.172-11.375 0 0.039 0.881 0.116 0.808 0.193 0.737 0.27 0.664 0.348 0.593 0.425 0.52 0.499 0.444 0.56 0.363 0.62 0.283 0.682 0.202 0.742 0.121 0.803 0.04 0.956-0.042 0.933-0.125 0.908-0.208 0.904-0.3 0.901-0.38 0.898-0.46 0 2.484-0.903 0.364-0.917 0.303-0.93 0.239-0.932 0.165-0.943 0.099-0.953 0.033-1.005-0.043-0.943-0.13-0.881-0.217-0.819-0.304-0.758-0.39-0.695-0.477-0.634-0.564-0.559-0.637-0.474-0.698-0.387-0.759-0.302-0.819-0.215-0.88-0.129-0.94-0.043-1.001 0.041-1.036 0.122-0.973 0.204-0.911 0.286-0.848 0.367-0.786 0.449-0.723 0.531-0.661 0.6-0.584 0.658-0.495 0.715-0.405 0.772-0.314 0.83-0.225 0.887-0.135 0.944-0.045 0.845 0.039 0.792 0.115 0.74 0.193 0.687 0.27 0.635 0.348 0.583 0.424 0.531 0.502 0.472 0.563 0.4 0.619 0.327 0.674 0.255 0.73 0.182 0.786 0.109 0.841zM13-10l-0.045-0.671-0.135-0.614-0.225-0.556-0.315-0.499-0.405-0.441-0.473-0.377-0.532-0.293-0.591-0.21-0.649-0.125-0.708-0.042-0.805 0.04-0.738 0.12-0.672 0.2-0.605 0.28-0.54 0.36-0.457 0.433-0.373 0.499-0.287 0.566-0.203 0.632-0.117 0.698z"/><path id="g10_73" d="M12.297-15.156l0 2.406-0.717-0.325-0.735-0.265-0.751-0.207-0.771-0.156-0.792-0.094-0.812-0.031-0.707 0.023-0.633 0.069-0.56 0.116-0.485 0.162-0.412 0.208-0.332 0.248-0.258 0.295-0.185 0.34-0.11 0.387-0.037 0.433 0.042 0.407 0.126 0.363 0.21 0.317 0.294 0.273 0.322 0.191 0.43 0.189 0.538 0.184 0.645 0.181 0.752 0.176 0.86 0.204 0.843 0.2 0.757 0.228 0.673 0.255 0.588 0.282 0.502 0.308 0.418 0.336 0.405 0.445 0.315 0.51 0.225 0.575 0.135 0.64 0.045 0.705-0.046 0.679-0.14 0.63-0.232 0.582-0.325 0.532-0.418 0.485-0.511 0.436-0.592 0.377-0.663 0.308-0.733 0.24-0.804 0.172-0.873 0.103-0.944 0.034-0.834-0.026-0.854-0.078-0.875-0.13-0.892-0.195-0.927-0.25-0.962-0.305 0-2.61 0.911 0.439 0.902 0.36 0.89 0.279 0.892 0.191 0.886 0.115 0.878 0.038 0.668-0.024 0.602-0.071 0.538-0.119 0.472-0.166 0.408-0.214 0.343-0.263 0.267-0.302 0.191-0.34 0.114-0.38 0.038-0.418-0.043-0.477-0.129-0.417-0.215-0.357-0.301-0.296-0.269-0.181-0.359-0.178-0.45-0.176-0.54-0.173-0.63-0.171-0.72-0.167-0.875-0.204-0.868-0.214-0.767-0.256-0.666-0.296-0.564-0.339-0.463-0.379-0.366-0.436-0.284-0.496-0.204-0.557-0.121-0.616-0.041-0.676 0.042-0.686 0.126-0.632 0.211-0.577 0.295-0.522 0.379-0.467 0.463-0.413 0.54-0.358 0.612-0.293 0.684-0.228 0.754-0.163 0.825-0.097 0.897-0.033 0.899 0.024 0.865 0.073 0.83 0.122 0.792 0.159 0.75 0.209z"/><path id="g10_2b" d="M12.75-18l0 8 7.625 0 0 2.172-7.625 0 0 7.828-2.25 0 0-7.828-7.5 0 0-2.172 7.5 0 0-8z"/><path id="g10_49" d="M2.75-21l2.75 0 0 21-2.75 0z"/><path id="g10_6c" d="M2.625-22l2.5 0 0 22-2.5 0z"/><path id="g10_66" d="M10.312-22l0.001 2.172-2.407 0-0.51 0.022-0.445 0.065-0.378 0.11-0.312 0.153-0.245 0.197-0.186 0.247-0.144 0.318-0.103 0.387-0.062 0.458-0.021 0.527 0 1.344 4.125 0 0 2.172-4.125 0 0 13.828-2.5 0 0-13.828-2.375 0 0-2.172 2.375 0 0-1.062 0.033-0.821 0.099-0.742 0.165-0.664 0.231-0.586 0.297-0.508 0.363-0.429 0.434-0.363 0.51-0.297 0.587-0.231 0.663-0.165 0.74-0.099 0.816-0.033z"/><path id="g10_76" d="M0.828-16l2.641 0 4.75 13.422 4.734-13.422 2.641 0-5.688 16-3.39 0z"/></defs><g id="text_1" transform="translate(197 821)"><use href="#g10_32" x="-2" y="22"/><use href="#g10_30" x="15.625" y="22"/><use href="#g10_31" x="33.375" y="22"/><use href="#g10_37" x="51" y="22"/></g><g id="text_2" transform="translate(309 821)"><use href="#g10_32" x="-2" y="22"/><use href="#g10_30" x="15.625" y="22"/><use href="#g10_31" x="33.375" y="22"/><use href="#g10_38" x="51" y="22"/></g><g id="text_3" transform="translate(422 821)"><use href="#g10_32" x="-2" y="22"/><use href="#g10_30" x="15.625" y="22"/><use href="#g10_31" x="33.375" y="22"/><use href="#g10_39" x="51" y="22"/></g><g id="text_4" transform="translate(535 821)"><use href="#g10_32" x="-2" y="22"/><use href="#g10_30" x="15.625" y="22"/><use href="#g10_32" x="33.375" y="22"/><use href="#g10_30" x="51" y="22"/></g><g id="text_5" transform="translate(648 821)"><use href="#g10_32" x="-2" y="22"/><use href="#g10_30" x="15.625" y="22"/><use href="#g10_32" x="33.375" y="22"/><use href="#g10_31" x="51" y="22"/></g><g id="text_6" transform="translate(760 821)"><use href="#g10_32" x="-2" y="22"/><use href="#g10_30" x="15.625" y="22"/><use href="#g10_32" x="33.375" y="22"/><use href="#g10_32" x="51" y="22"/></g><g id="text_7" transform="translate(873 821)"><use href="#g10_32" x="-2" y="22"/><use href="#g10_30" x="15.625" y="22"/><use href="#g10_32" x="33.375" y="22"/><use href="#g10_33" x="51" y="22"/></g><g id="text_8" transform="translate(986 821)"><use href="#g10_32" x="-2" y="22"/><use href="#g10_30" x="15.625" y="22"/><use href="#g10_32" x="33.375" y="22"/><use href="#g10_34" x="51" y="22"/></g><g id="text_9" transform="translate(1099 821)"><use href="#g10_32" x="-2" y="22"/><use href="#g10_30" x="15.625" y="22"/><use href="#g10_32" x="33.375" y="22"/><use href="#g10_35" x="51" y="22"/></g><g id="text_10" transform="translate(663 860)"><use href="#g10_41" x="0" y="22"/><use href="#g10_6e" x="18" y="22"/></g><g id="text_11" transform="translate(78 760)"><use href="#g10_34" x="-1" y="22"/><use href="#g10_30" x="15.625" y="22"/><use href="#g10_30" x="33.375" y="22"/><use href="#g10_30" x="51.125" y="22"/><use href="#g10_30" x="68.875" y="22"/></g><g id="text_12" transform="translate(79 666)"><use href="#g10_36" x="-1" y="22"/><use href="#g10_30" x="15.625" y="22"/><use href="#g10_30" x="33.375" y="22"/><use href="#g10_30" x="51.125" y="22"/><use href="#g10_30" x="68.875" y="22"/></g><g id="text_13" transform="translate(79 571)"><use href="#g10_38" x="-1" y="22"/><use href="#g10_30" x="15.625" y="22"/><use href="#g10_30" x="33.375" y="22"/><use href="#g10_30" x="51.125" y="22"/><use href="#g10_30" x="68.875" y="22"/></g><g id="text_14" transform="translate(62 477)"><use href="#g10_31" x="-3" y="22"/><use href="#g10_30" x="14.625" y="22"/><use href="#g10_30" x="32.375" y="22"/><use href="#g10_30" x="50.125" y="22"/><use href="#g10_30" x="67.875" y="22"/><use href="#g10_30" x="85.625" y="22"/></g><g id="text_15" transform="translate(62 383)"><use href="#g10_31" x="-3" y="22"/><use href="#g10_32" x="14.625" y="22"/><use href="#g10_30" x="32.25" y="22"/><use href="#g10_30" x="50" y="22"/><use href="#g10_30" x="67.75" y="22"/><use href="#g10_30" x="85.5" y="22"/></g><g id="text_16" transform="translate(62 288)"><use href="#g10_31" x="-3" y="22"/><use href="#g10_34" x="14.625" y="22"/><use href="#g10_30" x="32.25" y="22"/><use href="#g10_30" x="50" y="22"/><use href="#g10_30" x="67.75" y="22"/><use href="#g10_30" x="85.5" y="22"/></g><g id="text_17" transform="translate(62 194)"><use href="#g10_31" x="-3" y="22"/><use href="#g10_36" x="14.625" y="22"/><use href="#g10_30" x="32.25" y="22"/><use href="#g10_30" x="50" y="22"/><use href="#g10_30" x="67.75" y="22"/><use href="#g10_30" x="85.5" y="22"/></g><g id="text_18" transform="translate(62 99)"><use href="#g10_31" x="-3" y="22"/><use href="#g10_38" x="14.625" y="22"/><use href="#g10_30" x="32.25" y="22"/><use href="#g10_30" x="50" y="22"/><use href="#g10_30" x="67.75" y="22"/><use href="#g10_30" x="85.5" y="22"/></g><g id="text_19" transform="matrix(0 -1 1 0 18 550)"><use href="#g10_4e" x="0" y="23"/><use href="#g10_75" x="20.75" y="23"/><use href="#g10_6d" x="38.375" y="23"/><use href="#g10_61" x="65.5" y="23"/><use href="#g10_72" x="82.5" y="23"/><use href="#g10_74" x="102.875" y="23"/><use href="#g10_72" x="113.75" y="23"/><use href="#g10_61" x="125.25" y="23"/><use href="#g10_6e" x="142.25" y="23"/><use href="#g10_7a" x="159.875" y="23"/><use href="#g10_61" x="174.625" y="23"/><use href="#g10_63" x="191.625" y="23"/><use href="#g10_74" x="206.875" y="23"/><use href="#g10_69" x="217.75" y="23"/><use href="#g10_69" x="225.5" y="23"/></g><g id="text_20" transform="translate(372 19)"><use href="#g12_54" x="1" y="27"/><use href="#g12_72" x="15.5" y="27"/><use href="#g12_61" x="29.25" y="27"/><use href="#g12_6e" x="49.625" y="27"/><use href="#g12_7a" x="70.75" y="27"/><use href="#g12_61" x="88.125" y="27"/><use href="#g12_63" x="108.5" y="27"/><use href="#g12_74" x="126.875" y="27"/><use href="#g12_69" x="139.875" y="27"/><use href="#g12_69" x="149.125" y="27"/><use href="#g12_61" x="169" y="27"/><use href="#g12_6e" x="189.375" y="27"/><use href="#g12_75" x="210.5" y="27"/><use href="#g12_61" x="231.625" y="27"/><use href="#g12_6c" x="252" y="27"/><use href="#g12_65" x="261.25" y="27"/><use href="#g12_28" x="292.375" y="27"/><use href="#g12_75" x="305.375" y="27"/><use href="#g12_6e" x="326.5" y="27"/><use href="#g12_69" x="347.625" y="27"/><use href="#g12_74" x="356.875" y="27"/><use href="#g12_61" x="369.875" y="27"/><use href="#g12_74" x="390.25" y="27"/><use href="#g12_69" x="403.25" y="27"/><use href="#g12_69" x="423.125" y="27"/><use href="#g12_6e" x="432.375" y="27"/><use href="#g12_64" x="453.5" y="27"/><use href="#g12_69" x="474.75" y="27"/><use href="#g12_76" x="484" y="27"/><use href="#g12_69" x="503.75" y="27"/><use href="#g12_64" x="513" y="27"/><use href="#g12_75" x="534.25" y="27"/><use href="#g12_61" x="555.375" y="27"/><use href="#g12_6c" x="575.75" y="27"/><use href="#g12_65" x="585" y="27"/><use href="#g12_29" x="605.5" y="27"/></g><g id="text_21" transform="translate(290 87)"><use href="#g10_52" x="-2" y="23"/><use href="#g10_6f" x="15" y="23"/><use href="#g10_6d" x="31.875" y="23"/><use href="#g10_61" x="59" y="23"/><use href="#g10_6e" x="76" y="23"/><use href="#g10_69" x="93.625" y="23"/><use href="#g10_61" x="101.375" y="23"/></g><g id="text_22" transform="translate(290 129)"><use href="#g10_42" x="-2" y="23"/><use href="#g10_75" x="16.125" y="23"/><use href="#g10_63" x="33.75" y="23"/><use href="#g10_75" x="49" y="23"/><use href="#g10_72" x="66.625" y="23"/><use href="#g10_65" x="77.5" y="23"/><use href="#g10_73" x="94.5" y="23"/><use href="#g10_74" x="109" y="23"/><use href="#g10_69" x="119.875" y="23"/><use href="#g10_2b" x="127.625" y="23"/><use href="#g10_49" x="151" y="23"/><use href="#g10_6c" x="159.25" y="23"/><use href="#g10_66" x="167" y="23"/><use href="#g10_6f" x="176.75" y="23"/><use href="#g10_76" x="193.625" y="23"/></g></g></svg> 
</body></html>
